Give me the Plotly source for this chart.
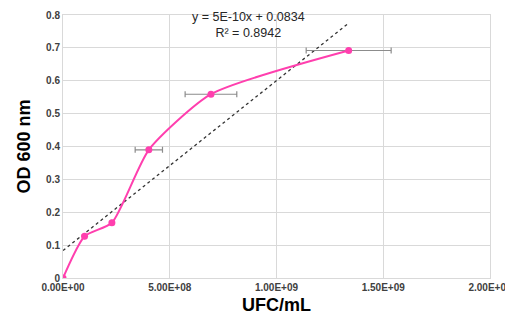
import numpy as np
import plotly.graph_objects as go

ufc = [0, 1.01e8, 2.29e8, 4.02e8, 6.93e8, 1.338e9]
od = [0.0, 0.127, 0.168, 0.390, 0.559, 0.692]
ufc_err = [0, 0, 0, 0.64e8, 1.21e8, 1.99e8]

x_ticks = [0, 5e8, 1e9, 1.5e9, 2e9]
x_tick_labels = ["0.00E+00", "5.00E+08", "1.00E+09", "1.50E+09", "2.00E+09"]
y_ticks = [0, 0.1, 0.2, 0.3, 0.4, 0.5, 0.6, 0.7, 0.8]
y_tick_labels = ["0", "0.1", "0.2", "0.3", "0.4", "0.5", "0.6", "0.7", "0.8"]

slope, intercept = 5.17e-10, 0.0834
trend_x = [0, 1.335e9]
trend_y = [intercept + slope * v for v in trend_x]

pink = "#ff3fae"

fig = go.Figure()
fig.add_trace(go.Scatter(
    x=trend_x, y=trend_y, mode="lines",
    line=dict(color="#333333", width=1.3, dash="dot"),
    showlegend=False, hoverinfo="skip"))
fig.add_trace(go.Scatter(
    x=ufc, y=od, mode="lines+markers",
    line=dict(color=pink, width=2, shape="spline", smoothing=0.6),
    marker=dict(color=pink, size=7),
    error_x=dict(type="data", array=ufc_err, visible=True,
                 color="#8c8c8c", thickness=1.2, width=3),
    showlegend=False))

fig.add_annotation(
    x=(248 - 63) / 427, y=(277.7 - 25) / 262.7, xref="paper", yref="paper",
    text="y = 5E-10x + 0.0834<br>R² = 0.8942", showarrow=False,
    font=dict(family="Liberation Sans, Arial", size=12.5, color="#262626"),
    align="center", xanchor="center", yanchor="middle")

fig.update_layout(
    width=505, height=317,
    margin=dict(l=55, r=23, t=7, b=47),
    paper_bgcolor="white", plot_bgcolor="white",
    font=dict(family="Liberation Sans, Arial", color="#262626"),
    xaxis=dict(
        range=[0, 2e9], tickvals=x_ticks, ticktext=x_tick_labels, automargin=False,
        tickfont=dict(size=10, family="Liberation Sans, Arial", color="#404040", weight="bold"),
        showgrid=True, gridcolor="#d9d9d9", gridwidth=1,
        zeroline=False, showline=True, linecolor="#d9d9d9", mirror=True,
        ticks="", title=dict(text="<b>UFC/mL</b>", font=dict(size=18, color="#000000"), standoff=6),
    ),
    yaxis=dict(
        range=[0, 0.8], tickvals=y_ticks, ticktext=y_tick_labels, automargin=False,
        tickfont=dict(size=10, family="Liberation Sans, Arial", color="#404040", weight="bold"),
        showgrid=True, gridcolor="#d9d9d9", gridwidth=1,
        zeroline=False, showline=True, linecolor="#d9d9d9", mirror=True,
        ticks="", title=dict(text="<b>OD 600 nm</b>", font=dict(size=18, color="#000000"), standoff=10),
    ),
)

fig.write_html("out.html")
